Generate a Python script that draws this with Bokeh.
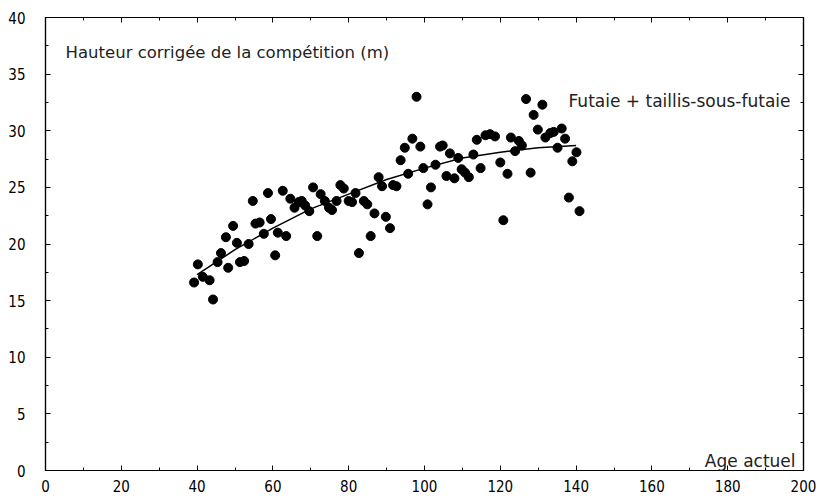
from bokeh.plotting import figure
from bokeh.models import LinearAxis, FixedTicker, Range1d, Label, ColumnDataSource, CustomLabelingPolicy
from bokeh.embed import file_html
from bokeh.resources import INLINE

# Data
age = [39.2, 40.2, 41.5, 43.3, 44.2, 45.4, 46.3, 48.2, 47.6, 49.5, 50.5, 51.3, 52.4, 53.6,
       54.7, 55.4, 56.5, 57.6, 58.7, 59.5, 60.6, 61.3, 62.6, 63.5, 64.6, 65.7, 66.8, 67.6,
       68.5, 69.6, 70.6, 71.7, 72.6, 73.7, 74.8, 75.6, 76.8, 77.8, 78.7, 80.0, 80.9, 81.8,
       82.7, 84.0, 84.9, 85.8, 86.8, 87.9, 88.8, 89.8, 90.9, 91.7, 92.6, 93.7, 94.8, 95.7,
       96.8, 97.9, 98.9, 99.7, 100.8, 101.7, 102.9, 104.1, 104.8, 105.8, 106.7, 107.9, 108.9,
       109.8, 110.7, 111.7, 112.9, 113.8, 114.8, 116.1, 117.3, 118.6, 120.0, 120.8, 121.9,
       122.8, 123.9, 124.9, 125.7, 126.8, 128.0, 128.8, 129.9, 131.1, 131.9, 133.2, 134.1,
       135.1, 136.2, 137.1, 138.1, 139.0, 140.1, 140.9]
hauteur = [16.6, 18.2, 17.1, 16.8, 15.1, 18.4, 19.2, 17.9, 20.6, 21.6, 20.1, 18.4, 18.5, 20.0,
           23.8, 21.8, 21.9, 20.9, 24.5, 22.2, 19.0, 21.0, 24.7, 20.7, 24.0, 23.2, 23.7, 23.8,
           23.4, 22.9, 25.0, 20.7, 24.4, 23.8, 23.2, 23.0, 23.8, 25.2, 24.9, 23.8, 23.7, 24.5,
           19.2, 23.8, 23.5, 20.7, 22.7, 25.9, 25.1, 22.4, 21.4, 25.2, 25.1, 27.4, 28.5, 26.2,
           29.3, 33.0, 28.6, 26.7, 23.5, 25.0, 27.0, 28.6, 28.7, 26.0, 28.0, 25.8, 27.6,
           26.6, 26.3, 25.9, 27.9, 29.2, 26.7, 29.6, 29.7, 29.5, 27.2, 22.1, 26.2,
           29.4, 28.2, 29.1, 28.7, 32.8, 26.3, 31.4, 30.1, 32.3, 29.4, 29.8, 29.9,
           28.5, 30.2, 29.3, 24.1, 27.3, 28.1, 22.9]

# Fitted curve
curve_age = [40, 50, 60, 70, 80, 90, 100, 110, 120, 130, 140]
curve_h = [17.3, 19.5, 21.4, 23.1, 24.4, 25.7, 26.7, 27.6, 28.1, 28.5, 28.7]

x_ticks = [0, 20, 40, 60, 80, 100, 120, 140, 160, 180, 200]
x_minor = [10, 30, 50, 70, 90, 110, 130, 150, 170, 190]
y_ticks = [0, 5, 10, 15, 20, 25, 30, 35, 40]
y_minor = [2.5, 7.5, 12.5, 17.5, 22.5, 27.5, 32.5, 37.5]

TICK_FONT = "Liberation Sans Narrow, DejaVu Sans Condensed, Liberation Sans"
TEXT_FONT = "DejaVu Sans"

p = figure(width=820, height=502, output_backend="svg", toolbar_location=None,
           x_range=Range1d(0, 200), y_range=Range1d(0, 40),
           x_axis_type=None, y_axis_type=None,
           min_border_left=45, min_border_right=17, min_border_top=17, min_border_bottom=32)
p.frame_width = 758
p.frame_height = 453
p.grid.visible = False
p.outline_line_color = "black"
p.outline_line_width = 1.2
p.background_fill_color = "white"
p.border_fill_color = "white"

hide_all = CustomLabelingPolicy(code="""
for (const i of Array.from(indices)) { indices.unset(i) }
return indices
""")


def make_axis(ticks, minor, labels=True, standoff=10):
    ax = LinearAxis(ticker=FixedTicker(ticks=ticks, minor_ticks=minor))
    ax.axis_line_color = "black"
    ax.axis_line_width = 1.2
    ax.major_tick_in = 5
    ax.major_tick_out = 0
    ax.minor_tick_in = 3
    ax.minor_tick_out = 0
    ax.major_tick_line_color = "black"
    ax.minor_tick_line_color = "black"
    if labels:
        ax.major_label_text_font = TICK_FONT
        ax.major_label_text_font_size = "15px"
        ax.major_label_text_color = "black"
        ax.major_label_standoff = standoff
    else:
        ax.major_label_text_font_size = "0px"
        ax.major_label_standoff = 0
        ax.major_label_policy = hide_all
    return ax


p.add_layout(make_axis(x_ticks, x_minor, standoff=9), "below")
p.add_layout(make_axis(y_ticks, y_minor, standoff=20), "left")
p.add_layout(make_axis(x_ticks, x_minor, labels=False), "above")
p.add_layout(make_axis(y_ticks, y_minor, labels=False), "right")

src = ColumnDataSource(dict(age=age, hauteur=hauteur))
p.scatter("age", "hauteur", source=src, size=9, color="black")
p.line(curve_age, curve_h, line_color="black", line_width=1.5)

p.add_layout(Label(x=5.3, y=36.95, text="Hauteur corrigée de la compétition (m)",
                   text_font=TEXT_FONT, text_font_size="16.5px", text_baseline="alphabetic",
                   text_align="left", text_color="#222222"))
p.add_layout(Label(x=138.0, y=32.6, text="Futaie + taillis-sous-futaie",
                   text_font=TEXT_FONT, text_font_size="17px", text_baseline="alphabetic",
                   text_align="left", text_color="#222222"))
p.add_layout(Label(x=197.9, y=0.8, text="Age actuel",
                   text_font=TEXT_FONT, text_font_size="17px", text_baseline="alphabetic",
                   text_align="right", text_color="#222222"))

open("out.html", "w").write(file_html(p, INLINE))
